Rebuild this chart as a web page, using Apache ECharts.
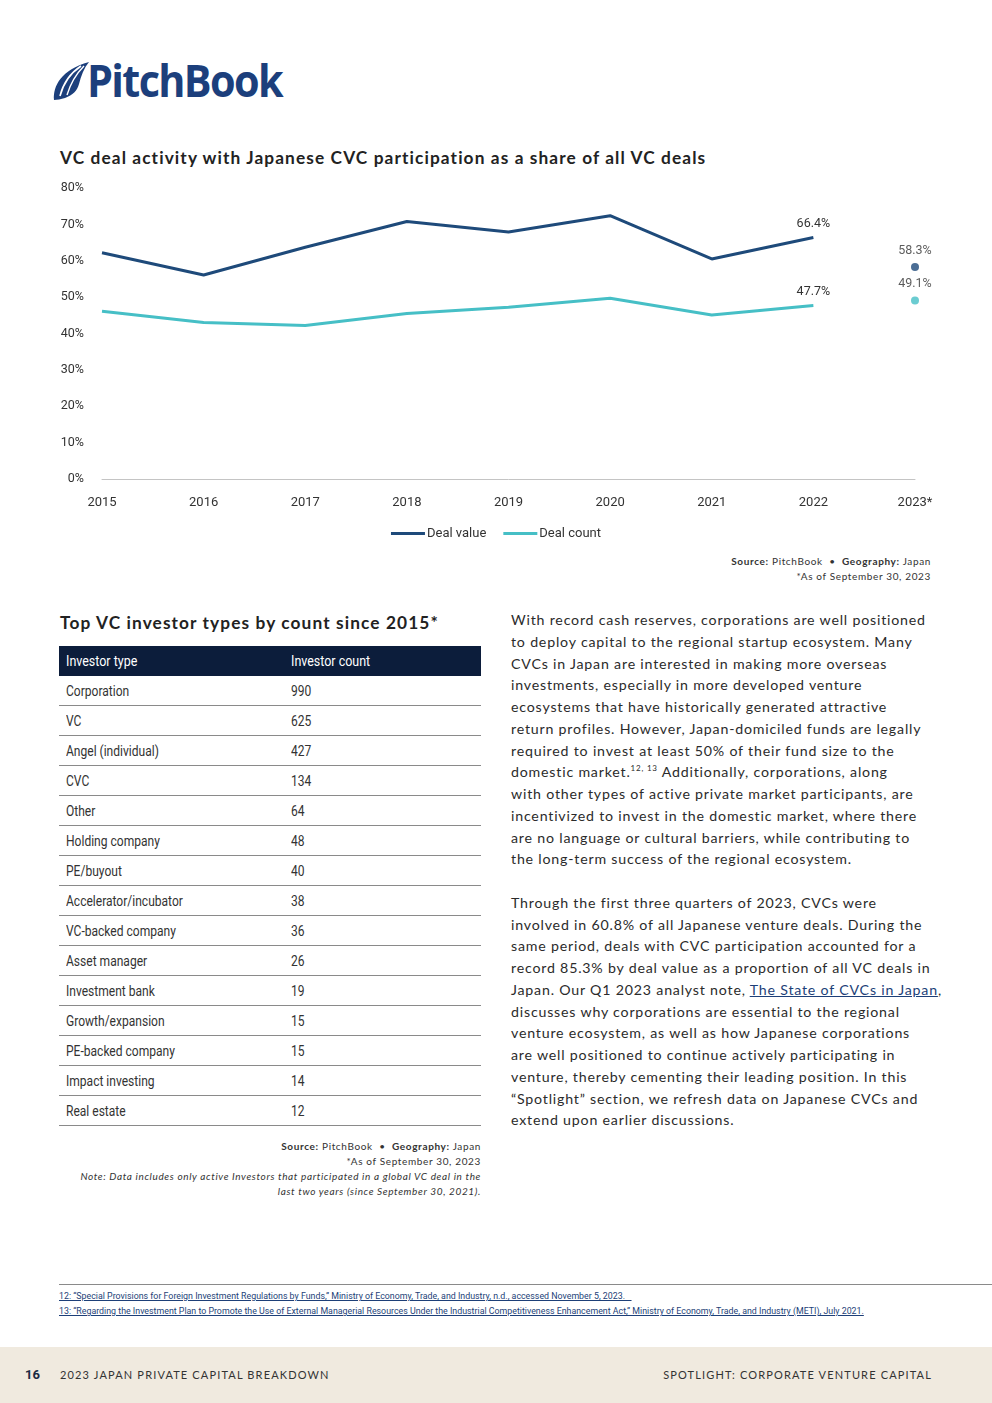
<!DOCTYPE html>
<html>
<head>
<meta charset="utf-8">
<script src="https://cdn.jsdelivr.net/npm/echarts@6/dist/echarts.min.js"></script>
<style>
  html,body{margin:0;padding:0;background:#fff;}
  body{width:992px;height:1403px;position:relative;overflow:hidden;font-family:Lato,'Open Sans',sans-serif;color:#2b2b2b;}
  .abs{position:absolute;}
  .title{font-family:Lato,'Open Sans',sans-serif;font-weight:700;font-size:17.3px;letter-spacing:1.1px;color:#222;white-space:nowrap;}
  .narrow{font-family:Roboto,'Liberation Sans',sans-serif;}
  .sx{display:inline-block;transform:scaleX(0.86);transform-origin:0 50%;white-space:nowrap;}
  .src{font-size:10px;letter-spacing:0.64px;color:#333;text-align:right;white-space:nowrap;line-height:15px;}
  .src b{font-weight:700;}
  #tbl{border-collapse:collapse;width:422px;table-layout:fixed;}
  #tbl th,#tbl td{height:29px;padding:0 0 0 7px;text-align:left;white-space:nowrap;overflow:visible;}
  #tbl th{background:#0c1d3b;color:#fff;font-weight:400;height:30px;font-size:14.5px;}
  #tbl td{color:#333;border-bottom:1px solid #8a8a8a;font-size:14px;}
  .body{font-size:14.2px;letter-spacing:0.8px;line-height:21.75px;color:#2b2b2b;white-space:nowrap;}
  .body a{color:#1d3f78;text-decoration:underline;}
  .fn{font-size:9.2px;color:#1d3f78;text-decoration:underline;white-space:nowrap;line-height:15px;transform:scaleX(0.96);transform-origin:0 50%;}
  .foot{font-size:11px;letter-spacing:1.15px;color:#333;white-space:nowrap;}
</style>
</head>
<body>
<script>
// ---- chart data ----
const years = ['2015','2016','2017','2018','2019','2020','2021','2022','2023*'];
const dealValue = [62.2, 56.1, 63.7, 70.8, 67.9, 72.4, 60.5, 66.4];
const dealCount = [46.1, 43.0, 42.2, 45.5, 47.2, 49.7, 45.1, 47.7];
const dealValue2023 = 58.3;
const dealCount2023 = 49.1;
const yTicks = [0, 10, 20, 30, 40, 50, 60, 70, 80];
// ---- table data ----
const investorTypes = ['Corporation','VC','Angel (individual)','CVC','Other','Holding company','PE/buyout','Accelerator/incubator','VC-backed company','Asset manager','Investment bank','Growth/expansion','PE-backed company','Impact investing','Real estate'];
const investorCounts = [990, 625, 427, 134, 64, 48, 40, 38, 36, 26, 19, 15, 15, 14, 12];
</script>

<!-- Logo -->
<svg class="abs" style="left:51px;top:60px" width="40" height="42" viewBox="0 0 40 42">
  <path d="M3,40 C2,26 10,10 38,2 C33,8 30,16 28,24 C26,31 22,35 14,38 C10,39 6,40 3,40 Z" fill="#1c3f7c"/>
  <path d="M9,36 C12,24 18,14 30,6" stroke="#fff" stroke-width="1.6" fill="none"/>
  <path d="M16,35 C19,25 23,16 33,6" stroke="#fff" stroke-width="1.4" fill="none"/>
</svg>
<div class="abs" style="left:87px;top:52px;font-family:'Open Sans',Lato,sans-serif;font-weight:700;font-size:45px;letter-spacing:-1.8px;color:#1c3f7c;white-space:nowrap;line-height:56px;transform:scaleX(0.92);transform-origin:0 50%;">PitchBook</div>

<div class="abs title" style="left:60px;top:147px;">VC deal activity with Japanese CVC participation as a share of all VC deals</div>

<div id="chart" class="abs" style="left:0;top:170px;width:992px;height:380px;"></div>

<div class="abs src" style="right:61px;top:554px;"><b>Source:</b> PitchBook &nbsp;•&nbsp; <b>Geography:</b> Japan<br>*As of September 30, 2023</div>

<div class="abs title" style="left:60px;top:612px;">Top VC investor types by count since 2015*</div>

<table id="tbl" class="abs narrow" style="left:59px;top:646px;"></table>

<div class="abs src" style="right:511px;top:1139px;"><b>Source:</b> PitchBook &nbsp;•&nbsp; <b>Geography:</b> Japan<br>*As of September 30, 2023<br><i>Note: Data includes only active Investors that participated in a global VC deal in the</i><br><i>last two years (since September 30, 2021).</i></div>

<div class="abs body" style="left:511px;top:609px;">
With record cash reserves, corporations are well positioned<br>
to deploy capital to the regional startup ecosystem. Many<br>
CVCs in Japan are interested in making more overseas<br>
investments, especially in more developed venture<br>
ecosystems that have historically generated attractive<br>
return profiles. However, Japan-domiciled funds are legally<br>
required to invest at least 50% of their fund size to the<br>
domestic market.<sup style="font-size:8px;line-height:0">12, 13</sup> Additionally, corporations, along<br>
with other types of active private market participants, are<br>
incentivized to invest in the domestic market, where there<br>
are no language or cultural barriers, while contributing to<br>
the long-term success of the regional ecosystem.<br>
<br>
Through the first three quarters of 2023, CVCs were<br>
involved in 60.8% of all Japanese venture deals. During the<br>
same period, deals with CVC participation accounted for a<br>
record 85.3% by deal value as a proportion of all VC deals in<br>
Japan. Our Q1 2023 analyst note, <a>The State of CVCs in Japan</a>,<br>
discusses why corporations are essential to the regional<br>
venture ecosystem, as well as how Japanese corporations<br>
are well positioned to continue actively participating in<br>
venture, thereby cementing their leading position. In this<br>
“Spotlight” section, we refresh data on Japanese CVCs and<br>
extend upon earlier discussions.
</div>

<div class="abs" style="left:59px;top:1284px;width:933px;height:1px;background:#8a8a8a;"></div>
<div class="abs fn narrow" style="left:59px;top:1288px;">12: “Special Provisions for Foreign Investment Regulations by Funds,” Ministry of Economy, Trade, and Industry, n.d., accessed November 5, 2023.&nbsp;&nbsp;&nbsp;</div>
<div class="abs fn narrow" style="left:59px;top:1303px;">13: “Regarding the Investment Plan to Promote the Use of External Managerial Resources Under the Industrial Competitiveness Enhancement Act,” Ministry of Economy, Trade, and Industry (METI), July 2021.</div>

<div class="abs" style="left:0;top:1347px;width:992px;height:56px;background:#f0eadf;"></div>
<div class="abs narrow" style="left:25px;top:1367px;font-size:13px;font-weight:700;color:#1a2a44;">16</div>
<div class="abs foot" style="left:60px;top:1368px;">2023 JAPAN PRIVATE CAPITAL BREAKDOWN</div>
<div class="abs foot" style="right:60px;top:1368px;">SPOTLIGHT: CORPORATE VENTURE CAPITAL</div>

<script>
// build table
(function(){
  const t = document.getElementById('tbl');
  let h = '<colgroup><col style="width:225px"><col style="width:197px"></colgroup>';
  h += '<tr><th><span class="sx">Investor type</span></th><th><span class="sx">Investor count</span></th></tr>';
  investorTypes.forEach((n,i)=>{ h += '<tr><td><span class="sx">'+n+'</span></td><td><span class="sx">'+investorCounts[i]+'</span></td></tr>'; });
  t.innerHTML = h;
})();

const navy = '#1e4a7a';
const teal = '#46bfc6';
const chartFont = "Roboto,'Liberation Sans',sans-serif";
const last = dealValue.length - 1;
function withLabel(arr){
  return arr.map((v,i)=> i===last ? {value:v, label:{show:true}} : v);
}
function pct(p){ const v = Array.isArray(p.value) ? p.value[1] : p.value; return Number(v).toFixed(1)+'%'; }
const lbl = {show:false, position:'top', distance:7, formatter:pct, fontFamily:chartFont, fontSize:12.5, color:'#333'};

const chart = echarts.init(document.getElementById('chart'), null, {renderer:'canvas'});
chart.setOption({
  animation:false,
  grid:{left:102, right:77, top:18, height:291},
  legend:{
    top:352, left:'center', itemWidth:34, itemHeight:3, itemGap:17,
    textStyle:{fontFamily:chartFont, fontSize:13, color:'#333', padding:[0,0,0,-3]},
    data:[{name:'Deal value', icon:'rect', itemStyle:{color:navy}}, {name:'Deal count', icon:'rect', itemStyle:{color:teal}}]
  },
  xAxis:{
    type:'category', data:years, boundaryGap:false,
    axisLine:{lineStyle:{color:'#c4c4c4', width:1}},
    axisTick:{show:false},
    axisLabel:{margin:17, fontFamily:chartFont, fontSize:13, color:'#333'}
  },
  yAxis:{
    type:'value', min:yTicks[0], max:yTicks[yTicks.length-1], interval:10,
    splitLine:{show:false}, axisLine:{show:false}, axisTick:{show:false},
    axisLabel:{margin:18, formatter:'{value}%', fontFamily:chartFont, fontSize:12.5, color:'#333'}
  },
  series:[
    {name:'Deal value', type:'line', data:withLabel(dealValue), showSymbol:true, symbol:'circle', symbolSize:1,
     lineStyle:{color:navy, width:3}, itemStyle:{color:'rgba(0,0,0,0)'}, label:lbl},
    {name:'Deal count', type:'line', data:withLabel(dealCount), showSymbol:true, symbol:'circle', symbolSize:1,
     lineStyle:{color:teal, width:3}, itemStyle:{color:'rgba(0,0,0,0)'}, label:lbl},
    {name:'Deal value', type:'scatter', data:[[years[8], dealValue2023]], symbolSize:8,
     itemStyle:{color:navy}, label:Object.assign({}, lbl, {show:true, distance:6})},
    {name:'Deal count', type:'scatter', data:[[years[8], dealCount2023]], symbolSize:8,
     itemStyle:{color:teal}, label:Object.assign({}, lbl, {show:true, distance:6})}
  ]
});
</script>
</body>
</html>
